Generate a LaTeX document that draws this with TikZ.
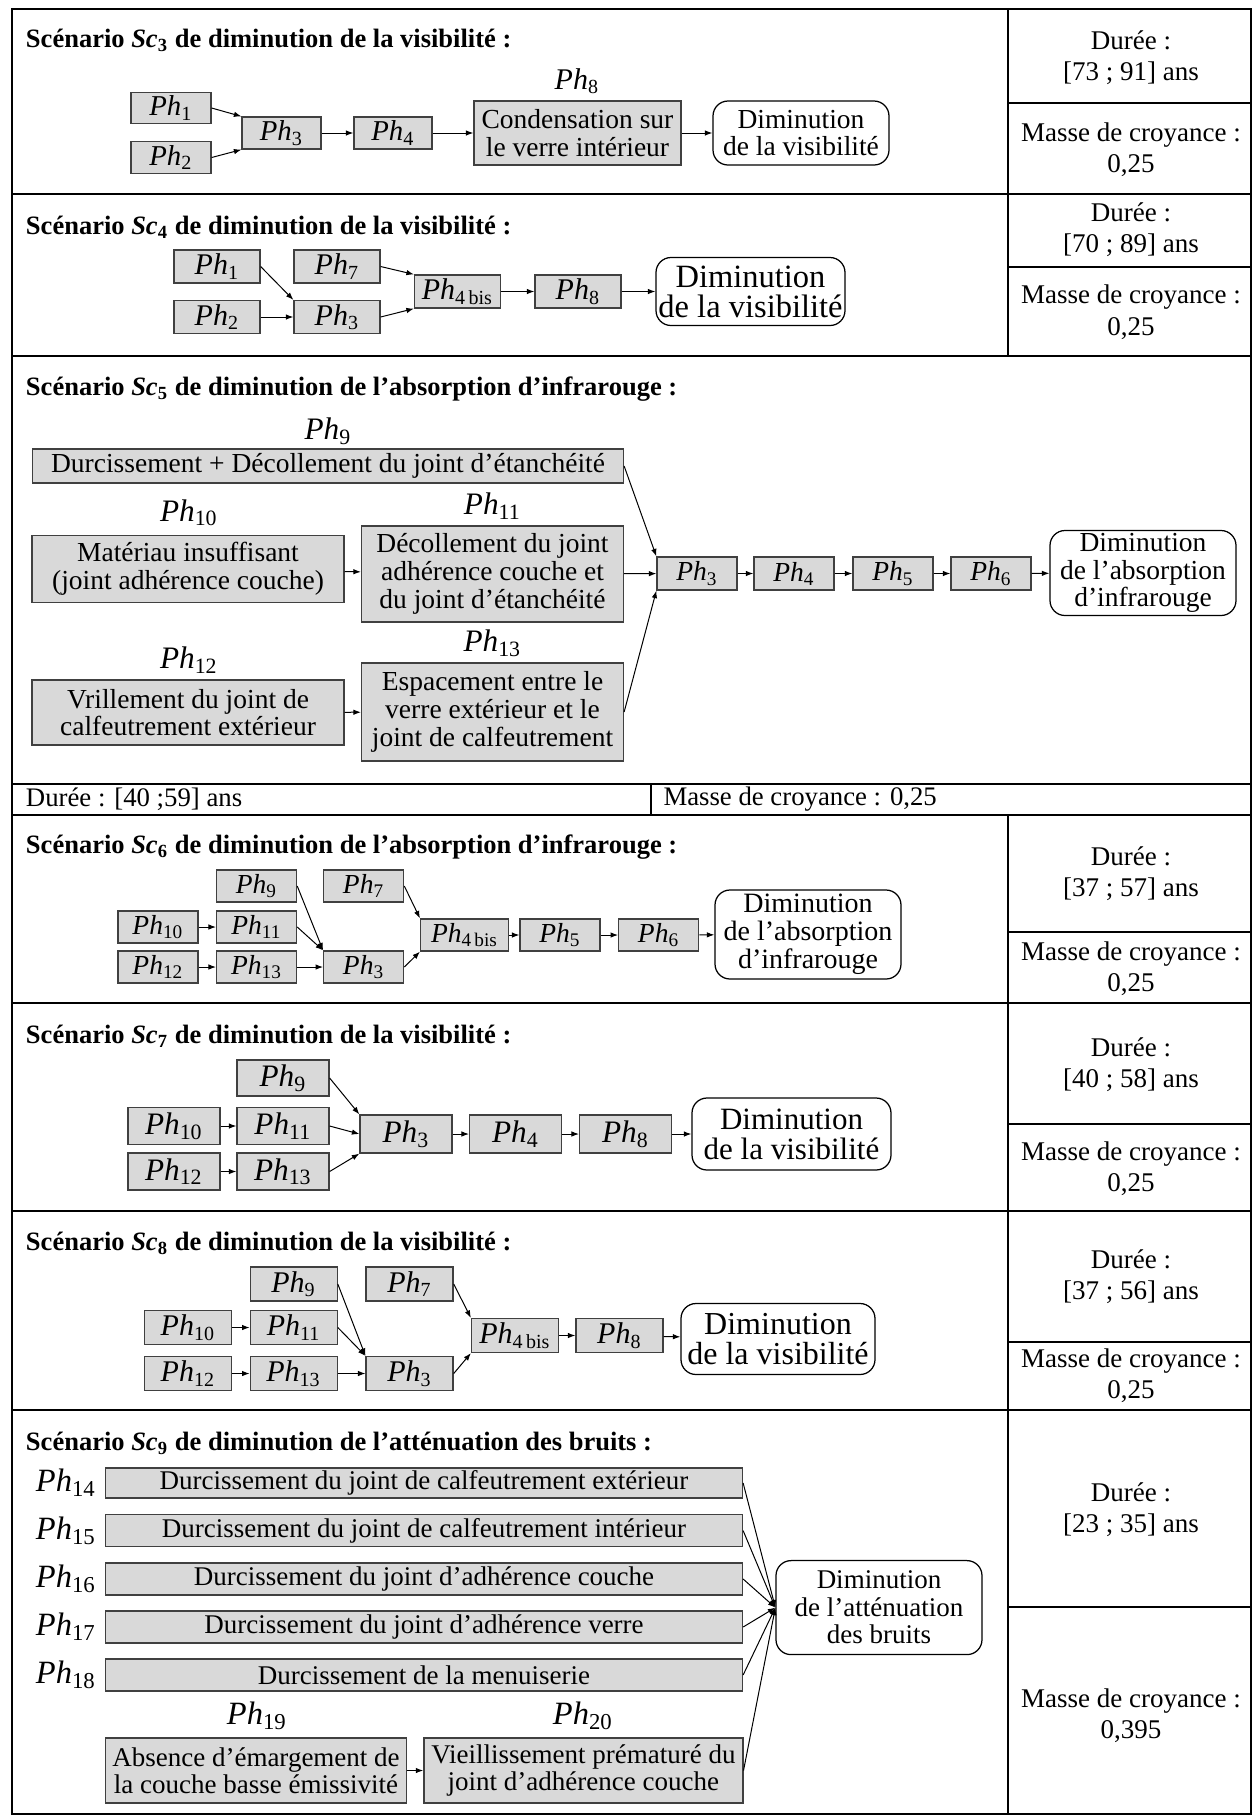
\documentclass[tikz,border=0pt]{standalone}
\usepackage{fontspec}
\setmainfont{Liberation Serif}
\usetikzlibrary{arrows.meta}
\newcommand{\phase}[1]{\textit{Ph}\textsubscript{#1}}
\newcommand{\taille}[2]{\fontsize{#1}{#2}\selectfont}

\begin{document}
\begin{tikzpicture}[x=0.4pt, y=-0.4pt,
    boite/.style={draw=black!75, fill=black!15, line width=0.5pt, inner sep=0pt, align=center},
    fin/.style={draw, line width=0.5pt, rounded corners=6pt, inner sep=0pt, align=center},
    wh/.style 2 args={minimum width=#1*0.4pt, minimum height=#2*0.4pt},
    lab/.style={inner sep=0pt},
    titre/.style={anchor=west, inner sep=0pt, font=\taille{10.6}{12}\bfseries},
    info/.style={align=center, inner sep=0pt, font=\taille{10.8}{12.5}},
    fl/.style={-{Latex[length=3pt,width=2.2pt]}, line width=0.4pt},
    cadre/.style={line width=0.8pt}]
    \useasboundingbox (0,0) rectangle (1256,1816);

    % cadre du tableau
    \draw[cadre] (12,9) rectangle (1251,1814);
    \draw[cadre] (12,193.5) -- (1251,193.5);
    \draw[cadre] (12,355.7) -- (1251,355.7);
    \draw[cadre] (12,784.4) -- (1251,784.4);
    \draw[cadre] (12,814.6) -- (1251,814.6);
    \draw[cadre] (12,1003.4) -- (1251,1003.4);
    \draw[cadre] (12,1210.8) -- (1251,1210.8);
    \draw[cadre] (12,1410.1) -- (1251,1410.1);
    \draw[cadre] (1008,9) -- (1008,355.7);
    \draw[cadre] (1008,814.6) -- (1008,1814);
    \draw[cadre] (651,784.4) -- (651,814.6);
    \draw[cadre] (1008,103) -- (1251,103);
    \draw[cadre] (1008,266.5) -- (1251,266.5);
    \draw[cadre] (1008,931.6) -- (1251,931.6);
    \draw[cadre] (1008,1124) -- (1251,1124);
    \draw[cadre] (1008,1341.8) -- (1251,1341.8);
    \draw[cadre] (1008,1607) -- (1251,1607);

    % Sc3
    \begin{scope}[boite/.append style={font=\taille{11.5}{11.5}}, fin/.append style={font=\taille{11}{11.1}}]
    \node[titre] (t3) at (25.5,40.5) {Scénario \textit{Sc}\textsubscript{3} de diminution de la visibilité :};
    \node[boite, wh={80}{31}] (a1) at (171,108) {\phase{1}};
    \node[boite, wh={80}{32}] (a2) at (171,157.5) {\phase{2}};
    \node[boite, wh={79}{32}] (a3) at (281.5,133) {\phase{3}};
    \node[boite, wh={78}{32}] (a4) at (393,133) {\phase{4}};
    \node[boite, wh={207}{64}, font=\taille{11}{11.1}] (a8) at (577.5,133) {Condensation sur\\le verre intérieur};
    \node[lab, font=\taille{12}{12}] (l8) at (577,81) {\phase{8}};
    \node[fin, wh={176}{64}] (afin) at (801,133) {Diminution\\de la visibilité};
    \end{scope}
    \draw[fl] (a1.east) -- (a3.north west);
    \draw[fl] (a2.east) -- (a3.south west);
    \draw[fl] (a3) -- (a4);
    \draw[fl] (a4) -- (a8);
    \draw[fl] (a8) -- (afin);
    \node[info] (d3) at (1131,57.4) {Durée :\\{}[73 ; 91] ans};
    \node[info] (m3) at (1131,150) {Masse de croyance :\\0,25};

    % Sc4
    \begin{scope}[boite/.append style={font=\taille{12}{12}}, fin/.append style={font=\taille{13}{12}}]
    \node[titre] (t4) at (25.5,227) {Scénario \textit{Sc}\textsubscript{4} de diminution de la visibilité :};
    \node[boite, wh={86}{33}] (b1) at (217,266.5) {\phase{1}};
    \node[boite, wh={86}{33}] (b2) at (217,317) {\phase{2}};
    \node[boite, wh={86}{33}] (b7) at (337,266.5) {\phase{7}};
    \node[boite, wh={86}{33}] (b3) at (337,317) {\phase{3}};
    \node[boite, wh={86}{33}] (b4) at (457.5,291.5) {\phase{4\,bis}};
    \node[boite, wh={86}{33}] (b8) at (578,291.5) {\phase{8}};
    \node[fin, wh={189}{68}] (bfin) at (750.5,291.5) {Diminution\\de la visibilité};
    \end{scope}
    \draw[fl] (b1.east) -- (b3.north west);
    \draw[fl] (b2) -- (b3);
    \draw[fl] (b7.east) -- (b4.north west);
    \draw[fl] (b3.east) -- (b4.south west);
    \draw[fl] (b4) -- (b8);
    \draw[fl] (b8) -- (bfin);
    \node[info] (d4) at (1131,230) {Durée :\\{}[70 ; 89] ans};
    \node[info] (m4) at (1131,312.3) {Masse de croyance :\\0,25};

    % Sc5
    \begin{scope}[boite/.append style={font=\taille{11}{11.1}}, fin/.append style={font=\taille{11}{11.1}}, lab/.append style={font=\taille{12.5}{12.5}}]
    \node[titre] (t5) at (25.5,389) {Scénario \textit{Sc}\textsubscript{5} de diminution de l’absorption d’infrarouge :};
    \node[boite, wh={591}{34}] (c9) at (328,466) {Durcissement + Décollement du joint d’étanchéité};
    \node[lab] (l9) at (328,431) {\phase{9}};
    \node[boite, wh={312}{67}] (c10) at (188,569) {Matériau insuffisant\\(joint adhérence couche)};
    \node[lab] (l10) at (189,513) {\phase{10}};
    \node[boite, wh={262}{96}] (c11) at (492.5,574) {Décollement du joint\\adhérence couche et\\du joint d’étanchéité};
    \node[lab] (l11) at (492.5,506) {\phase{11}};
    \node[boite, wh={312}{65}] (c12) at (188,712.5) {Vrillement du joint de\\calfeutrement extérieur};
    \node[lab] (l12) at (189,660) {\phase{12}};
    \node[boite, wh={262}{98}] (c13) at (492.5,712) {Espacement entre le\\verre extérieur et le\\joint de calfeutrement};
    \node[lab] (l13) at (492.5,643) {\phase{13}};
    \node[boite, wh={80}{33}] (c3) at (697,573.5) {\phase{3}};
    \node[boite, wh={80}{33}] (c4) at (794,573.5) {\phase{4}};
    \node[boite, wh={80}{33}] (c5) at (893,573.5) {\phase{5}};
    \node[boite, wh={80}{33}] (c6) at (991,573.5) {\phase{6}};
    \node[fin, wh={186}{85}] (cfin) at (1143,573) {Diminution\\de l’absorption\\d’infrarouge};
    \end{scope}
    \draw[fl] (c9.east) -- (c3.north west);
    \draw[fl] (c10) -- (c11);
    \draw[fl] (c11) -- (c3);
    \draw[fl] (c12) -- (c13);
    \draw[fl] (c13.east) -- (c3.south west);
    \draw[fl] (c3) -- (c4);
    \draw[fl] (c4) -- (c5);
    \draw[fl] (c5) -- (c6);
    \draw[fl] (c6) -- (cfin);
    \node[lab, anchor=west, font=\taille{10.7}{12}] (d5) at (25.5,799.5) {Durée : [40 ;59] ans};
    \node[lab, anchor=west, font=\taille{10.7}{12}] (m5) at (663,799.5) {Masse de croyance : 0,25};

    % Sc6
    \begin{scope}[boite/.append style={font=\taille{11}{11}}, fin/.append style={font=\taille{11.2}{11.2}}]
    \node[titre] (t6) at (25.5,847) {Scénario \textit{Sc}\textsubscript{6} de diminution de l’absorption d’infrarouge :};
    \node[boite, wh={80}{32}] (e9) at (256.6,886) {\phase{9}};
    \node[boite, wh={80}{32}] (e7) at (363.7,886) {\phase{7}};
    \node[boite, wh={80}{32}] (e10) at (158,927) {\phase{10}};
    \node[boite, wh={80}{32}] (e11) at (256.6,927) {\phase{11}};
    \node[boite, wh={80}{32}] (e12) at (158,967) {\phase{12}};
    \node[boite, wh={80}{32}] (e13) at (256.6,967) {\phase{13}};
    \node[boite, wh={80}{32}] (e3) at (363.7,967) {\phase{3}};
    \node[boite, wh={88}{32}] (e4) at (464.6,935) {\phase{4\,bis}};
    \node[boite, wh={80}{32}] (e5) at (560,935) {\phase{5}};
    \node[boite, wh={80}{32}] (e6) at (658.7,935) {\phase{6}};
    \node[fin, wh={186}{89}] (efin) at (808,934.5) {Diminution\\de l’absorption\\d’infrarouge};
    \end{scope}
    \draw[fl] (e9.east) -- (e3.north west);
    \draw[fl] (e11.east) -- (e3.north west);
    \draw[fl] (e10) -- (e11);
    \draw[fl] (e12) -- (e13);
    \draw[fl] (e13) -- (e3);
    \draw[fl] (e7.east) -- (e4.north west);
    \draw[fl] (e3.east) -- (e4.south west);
    \draw[fl] (e4) -- (e5);
    \draw[fl] (e5) -- (e6);
    \draw[fl] (e6) -- (efin);
    \node[info] (d6) at (1131,873.7) {Durée :\\{}[37 ; 57] ans};
    \node[info] (m6) at (1131,968.6) {Masse de croyance :\\0,25};

    % Sc7
    \begin{scope}[boite/.append style={font=\taille{12.5}{12.5}}, fin/.append style={font=\taille{12.4}{12}}]
    \node[titre] (t7) at (25.5,1036) {Scénario \textit{Sc}\textsubscript{7} de diminution de la visibilité :};
    \node[boite, wh={92}{36}] (f9) at (283,1078) {\phase{9}};
    \node[boite, wh={92}{37}] (f10) at (174,1126) {\phase{10}};
    \node[boite, wh={92}{37}] (f11) at (283,1126) {\phase{11}};
    \node[boite, wh={92}{37}] (f12) at (174,1171.5) {\phase{12}};
    \node[boite, wh={92}{37}] (f13) at (283,1171.5) {\phase{13}};
    \node[boite, wh={92}{38}] (f3) at (406,1134) {\phase{3}};
    \node[boite, wh={92}{38}] (f4) at (515.6,1134) {\phase{4}};
    \node[boite, wh={92}{38}] (f8) at (625.6,1134) {\phase{8}};
    \node[fin, wh={199}{72}] (ffin) at (791.5,1134) {Diminution\\de la visibilité};
    \end{scope}
    \draw[fl] (f9.east) -- (f3.north west);
    \draw[fl] (f11.east) -- (f3.west);
    \draw[fl] (f13.east) -- (f3.south west);
    \draw[fl] (f10) -- (f11);
    \draw[fl] (f12) -- (f13);
    \draw[fl] (f3) -- (f4);
    \draw[fl] (f4) -- (f8);
    \draw[fl] (f8) -- (ffin);
    \node[info] (d7) at (1131,1065) {Durée :\\{}[40 ; 58] ans};
    \node[info] (m7) at (1131,1168.5) {Masse de croyance :\\0,25};

    % Sc8
    \begin{scope}[boite/.append style={font=\taille{12}{12}}, fin/.append style={font=\taille{12.8}{12}}]
    \node[titre] (t8) at (25.5,1243) {Scénario \textit{Sc}\textsubscript{8} de diminution de la visibilité :};
    \node[boite, wh={87}{34}] (g9) at (293.7,1284) {\phase{9}};
    \node[boite, wh={87}{34}] (g7) at (409.6,1284) {\phase{7}};
    \node[boite, wh={87}{34}] (g10) at (188,1327.5) {\phase{10}};
    \node[boite, wh={87}{34}] (g11) at (293.7,1327.5) {\phase{11}};
    \node[boite, wh={87}{34}] (g12) at (188,1373.5) {\phase{12}};
    \node[boite, wh={87}{34}] (g13) at (293.7,1373.5) {\phase{13}};
    \node[boite, wh={87}{34}] (g3) at (409.6,1373.5) {\phase{3}};
    \node[boite, wh={87}{34}] (g4) at (515,1335.5) {\phase{4\,bis}};
    \node[boite, wh={87}{34}] (g8) at (619.5,1335.5) {\phase{8}};
    \node[fin, wh={194}{71}] (gfin) at (778,1339) {Diminution\\de la visibilité};
    \end{scope}
    \draw[fl] (g9.east) -- (g3.north west);
    \draw[fl] (g11.east) -- (g3.north west);
    \draw[fl] (g10) -- (g11);
    \draw[fl] (g12) -- (g13);
    \draw[fl] (g13) -- (g3);
    \draw[fl] (g7.east) -- (g4.north west);
    \draw[fl] (g3.east) -- (g4.south west);
    \draw[fl] (g4) -- (g8);
    \draw[fl] (g8) -- (gfin);
    \node[info] (d8) at (1131,1276.3) {Durée :\\{}[37 ; 56] ans};
    \node[info] (m8) at (1131,1376) {Masse de croyance :\\0,25};

    % Sc9
    \begin{scope}[boite/.append style={font=\taille{10.8}{11}}, fin/.append style={font=\taille{10.8}{11}}, lab/.append style={font=\taille{13}{13}}]
    \node[titre] (t9) at (25.5,1443.7) {Scénario \textit{Sc}\textsubscript{9} de diminution de l’atténuation des bruits :};
    \node[boite, wh={637}{30}] (h14) at (424,1483) {Durcissement du joint de calfeutrement extérieur};
    \node[lab] (l14) at (66,1483) {\phase{14}};
    \node[boite, wh={637}{32}] (h15) at (424,1530.6) {Durcissement du joint de calfeutrement intérieur};
    \node[lab] (l15) at (66,1531) {\phase{15}};
    \node[boite, wh={637}{32}] (h16) at (424,1579) {Durcissement du joint d’adhérence couche};
    \node[lab] (l16) at (66,1579) {\phase{16}};
    \node[boite, wh={637}{32}] (h17) at (424,1627) {Durcissement du joint d’adhérence verre};
    \node[lab] (l17) at (66,1627) {\phase{17}};
    \node[boite, wh={637}{32}] (h18) at (424,1675) {Durcissement de la menuiserie};
    \node[lab] (l18) at (66,1675) {\phase{18}};
    \node[boite, wh={301}{65}] (h19) at (256,1770.5) {Absence d’émargement de\\la couche basse émissivité};
    \node[lab] (l19) at (257,1716) {\phase{19}};
    \node[boite, wh={319}{65}] (h20) at (583.4,1770.5) {Vieillissement prématuré du\\joint d’adhérence couche};
    \node[lab] (l20) at (583,1716) {\phase{20}};
    \node[fin, wh={206}{94}] (hfin) at (879,1607.6) {Diminution\\de l’atténuation\\des bruits};
    \end{scope}
    \draw[fl] (h14.east) -- (hfin.west);
    \draw[fl] (h15.east) -- (hfin.west);
    \draw[fl] (h16.east) -- (hfin.west);
    \draw[fl] (h17.east) -- (hfin.west);
    \draw[fl] (h18.east) -- (hfin.west);
    \draw[fl] (h20.east) -- (hfin.west);
    \draw[fl] (h19) -- (h20);
    \node[info] (d9) at (1131,1510) {Durée :\\{}[23 ; 35] ans};
    \node[info] (m9) at (1131,1716) {Masse de croyance :\\0,395};
\end{tikzpicture}
\end{document}
